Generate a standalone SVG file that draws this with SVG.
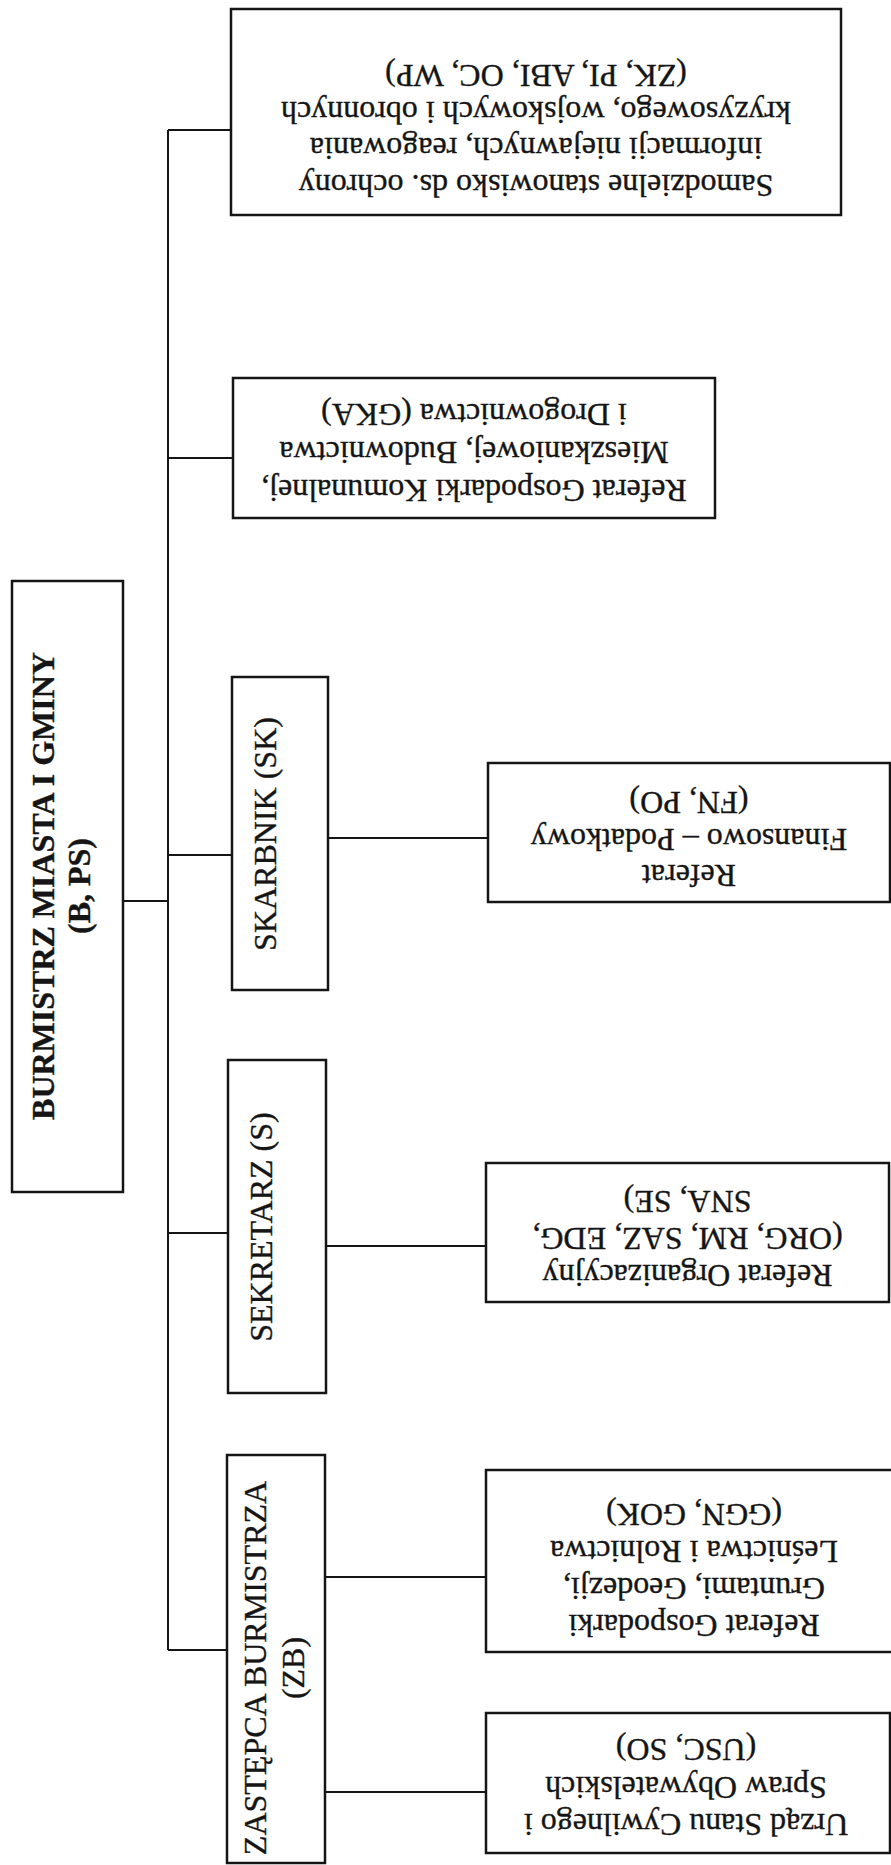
<svg xmlns="http://www.w3.org/2000/svg" width="891" height="1865" viewBox="0 0 891 1865">
<style>
.box{fill:#fff;stroke:#151515;stroke-width:2.5}
.conn{stroke:#151515;stroke-width:2;fill:none}
.t{font-family:"Liberation Serif","Times New Roman",serif;font-size:32px;fill:#151515;stroke:#151515;stroke-width:0.35;text-anchor:middle}
.b{font-weight:bold}
</style>
<rect width="891" height="1865" fill="#fff"/>
<g id="connectors">
<path class="conn" d="M168,130 V1650"/>
<path class="conn" d="M123,901 H168"/>
<path class="conn" d="M168,130 H231"/>
<path class="conn" d="M168,458 H233"/>
<path class="conn" d="M168,855 H232"/>
<path class="conn" d="M168,1233 H228"/>
<path class="conn" d="M168,1650 H227"/>
<path class="conn" d="M328,838 H488"/>
<path class="conn" d="M326,1246 H486"/>
<path class="conn" d="M325,1577 H486"/>
<path class="conn" d="M325,1792 H486"/>
</g>
<g id="burmistrz">
<rect class="box" x="12" y="581" width="111" height="611"/>
<text class="t b" transform="translate(0,886) rotate(-90)"><tspan x="0" y="54">BURMISTRZ MIASTA I GMINY</tspan><tspan x="0" y="90">(B, PS)</tspan></text>
</g>
<g id="samodzielne">
<rect class="box" x="231" y="9" width="610" height="206"/>
<text class="t" transform="rotate(180 536 112)"><tspan x="536" y="49.5">Samodzielne stanowisko ds. ochrony</tspan><tspan x="536" y="86">informacji niejawnych, reagowania</tspan><tspan x="536" y="122.5">kryzysowego, wojskowych i obronnych</tspan><tspan x="536" y="159">(ZK, PI, ABI, OC, WP)</tspan></text>
</g>
<g id="gka">
<rect class="box" x="233" y="378" width="482" height="140"/>
<text class="t" transform="rotate(180 474 448)"><tspan x="474" y="416">Referat Gospodarki Komunalnej,</tspan><tspan x="474" y="454">Mieszkaniowej, Budownictwa</tspan><tspan x="474" y="492">i Drogownictwa (GKA)</tspan></text>
</g>
<g id="skarbnik">
<rect class="box" x="232" y="677" width="96" height="313"/>
<text class="t" transform="translate(0,834) rotate(-90)"><tspan x="0" y="276">SKARBNIK (SK)</tspan></text>
</g>
<g id="finansowy">
<rect class="box" x="488" y="763" width="402" height="139"/>
<text class="t" transform="rotate(180 689 832.5)"><tspan x="689" y="800">Referat</tspan><tspan x="689" y="836.5">Finansowo – Podatkowy</tspan><tspan x="689" y="873">(FN, PO)</tspan></text>
</g>
<g id="sekretarz">
<rect class="box" x="228" y="1060" width="98" height="333"/>
<text class="t" transform="translate(0,1227) rotate(-90)"><tspan x="0" y="272">SEKRETARZ (S)</tspan></text>
</g>
<g id="organizacyjny">
<rect class="box" x="486" y="1163" width="403" height="139"/>
<text class="t" transform="rotate(180 687.5 1232.5)"><tspan x="687.5" y="1200">Referat Organizacyjny</tspan><tspan x="687.5" y="1237">(ORG, RM, SAZ, EDG,</tspan><tspan x="687.5" y="1274">SNA, SE)</tspan></text>
</g>
<g id="zastepca">
<rect class="box" x="227" y="1455" width="98" height="408"/>
<text class="t" transform="translate(0,1668) rotate(-90)"><tspan x="0" y="266">ZASTĘPCA BURMISTRZA</tspan><tspan x="0" y="304">(ZB)</tspan></text>
</g>
<g id="gospodarki">
<rect class="box" x="486" y="1470" width="420" height="182"/>
<text class="t" transform="rotate(180 694 1561)"><tspan x="694" y="1507">Referat Gospodarki</tspan><tspan x="694" y="1544">Gruntami, Geodezji,</tspan><tspan x="694" y="1581">Leśnictwa i Rolnictwa</tspan><tspan x="694" y="1618">(GGN, GOK)</tspan></text>
</g>
<g id="usc">
<rect class="box" x="486" y="1713" width="404" height="140"/>
<text class="t" transform="rotate(180 686 1783)"><tspan x="686" y="1752">Urząd Stanu Cywilnego i</tspan><tspan x="686" y="1789.5">Spraw Obywatelskich</tspan><tspan x="686" y="1827">(USC, SO)</tspan></text>
</g>
</svg>
